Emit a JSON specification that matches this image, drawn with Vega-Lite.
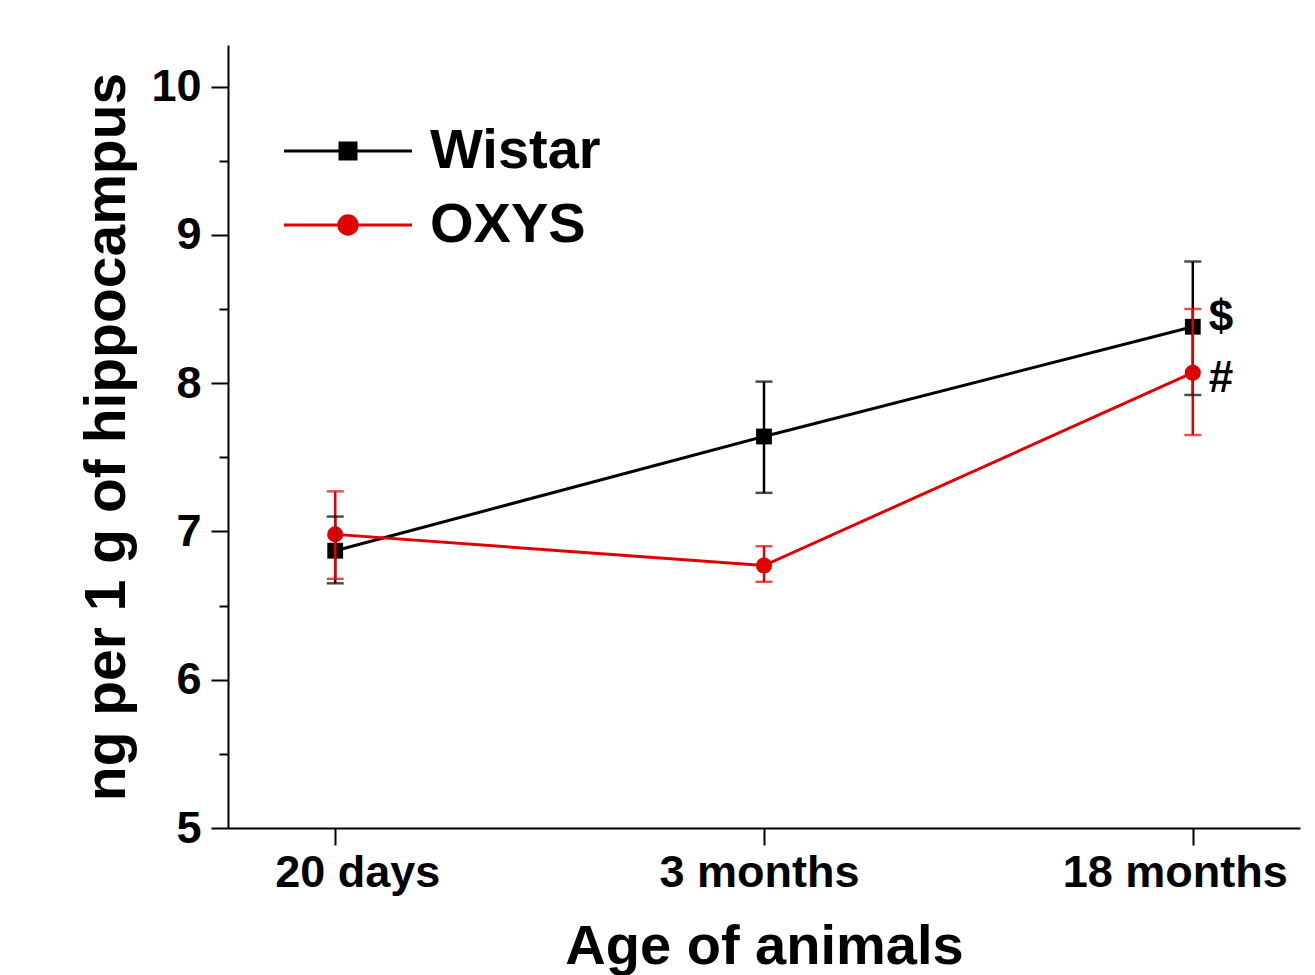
{
  "$schema": "https://vega.github.io/schema/vega-lite/v6.json",
  "width": 1072,
  "height": 783,
  "autosize": {"type": "none"},
  "padding": {"left": 228, "top": 45, "right": 15, "bottom": 147},
  "background": "white",
  "config": {"view": {"stroke": null}, "font": "Liberation Sans"},
  "datasets": {
    "main": [
      {"age": "20 days", "group": "Wistar", "mean": 6.87, "lo": 6.65, "hi": 7.10},
      {"age": "3 months", "group": "Wistar", "mean": 7.64, "lo": 7.26, "hi": 8.01},
      {"age": "18 months", "group": "Wistar", "mean": 8.38, "lo": 7.92, "hi": 8.82},
      {"age": "20 days", "group": "OXYS", "mean": 6.98, "lo": 6.68, "hi": 7.27},
      {"age": "3 months", "group": "OXYS", "mean": 6.77, "lo": 6.66, "hi": 6.90},
      {"age": "18 months", "group": "OXYS", "mean": 8.07, "lo": 7.65, "hi": 8.50}
    ],
    "notes": [
      {"age": "18 months", "value": 8.44, "label": "$"},
      {"age": "18 months", "value": 8.03, "label": "#"}
    ]
  },
  "resolve": {"axis": {"y": "independent"}},
  "layer": [
    {
      "data": {"name": "main"},
      "mark": {"type": "line", "strokeWidth": 3},
      "encoding": {
        "x": {
          "field": "age", "type": "ordinal",
          "scale": {"type": "point", "domain": ["20 days", "3 months", "18 months"], "padding": 0.25},
          "axis": {
            "title": "Age of animals", "labelAngle": 0, "labelLimit": 0,
            "labelFont": "Liberation Sans", "labelFontSize": 45, "labelFontWeight": "bold", "labelColor": "black",
            "tickSize": 17, "tickWidth": 2, "tickColor": "black",
            "domainColor": "black", "domainWidth": 2,
            "labelPadding": 5,
            "labelOffset": {
              "condition": [
                {"test": "datum.value === '20 days'", "value": 22},
                {"test": "datum.value === '3 months'", "value": -5}
              ],
              "value": -18
            },
            "titleFont": "Liberation Sans", "titleFontSize": 56, "titleFontWeight": "bold", "titleColor": "black",
            "titlePadding": 24, "grid": false
          }
        },
        "y": {
          "field": "mean", "type": "quantitative",
          "scale": {"domain": [5, 10.28], "nice": false, "zero": false},
          "axis": {
            "orient": "left",
            "title": "ng per 1 g of hippocampus",
            "values": [5, 6, 7, 8, 9, 10], "format": "d",
            "labelFont": "Liberation Sans", "labelFontSize": 45, "labelFontWeight": "bold", "labelColor": "black",
            "tickSize": 17, "tickWidth": 2, "tickColor": "black",
            "domainColor": "black", "domainWidth": 2,
            "labelPadding": 10,
            "titleFont": "Liberation Sans", "titleFontSize": 57, "titleFontWeight": "bold", "titleColor": "black",
            "titlePadding": 14, "grid": false
          }
        },
        "color": {
          "field": "group", "type": "nominal",
          "scale": {"domain": ["Wistar", "OXYS"], "range": ["#000000", "#e00000"]},
          "legend": {
            "title": null, "orient": "none", "legendX": 92, "legendY": 78, "padding": 0,
            "labelFont": "Liberation Sans", "labelFontSize": 56, "labelFontWeight": "bold", "labelColor": "black",
            "labelLimit": 0,
            "symbolSize": 256, "symbolStrokeWidth": 3, "labelOffset": 54, "rowPadding": 18,
            "encode": {
              "symbols": {
                "update": {
                  "shape": {"signal": "datum.value === 'Wistar' ? 'M-8,0H8M-1,-1H1V1H-1Z' : 'M-8,0H8M-1.15,0A1.15,1.15,0,1,1,1.15,0A1.15,1.15,0,1,1,-1.15,0Z'"},
                  "fill": {"signal": "datum.value === 'Wistar' ? '#000000' : '#e00000'"},
                  "stroke": {"signal": "datum.value === 'Wistar' ? '#000000' : '#e00000'"},
                  "strokeWidth": {"value": 3},
                  "opacity": {"value": 1}
                }
              }
            }
          }
        }
      }
    },
    {
      "data": {"name": "main"},
      "transform": [{"filter": "datum.group === 'Wistar'"}],
      "mark": {"type": "point", "filled": true, "opacity": 1, "size": 250, "shape": "square"},
      "encoding": {
        "x": {"field": "age", "type": "ordinal"},
        "y": {"field": "mean", "type": "quantitative", "axis": null},
        "color": {"field": "group", "type": "nominal"}
      }
    },
    {
      "data": {"name": "main"},
      "transform": [{"filter": "datum.group === 'OXYS'"}],
      "mark": {"type": "point", "filled": true, "opacity": 1, "size": 260, "shape": "circle"},
      "encoding": {
        "x": {"field": "age", "type": "ordinal"},
        "y": {"field": "mean", "type": "quantitative", "axis": null},
        "color": {"field": "group", "type": "nominal"}
      }
    },
    {
      "data": {"name": "main"},
      "mark": {"type": "rule", "strokeWidth": 2.5},
      "encoding": {
        "x": {"field": "age", "type": "ordinal"},
        "y": {
          "field": "lo", "type": "quantitative",
          "axis": {
            "orient": "left", "values": [5.5, 6.5, 7.5, 8.5, 9.5], "labels": false, "domain": false,
            "tickSize": 9, "tickWidth": 2, "tickColor": "black", "title": null, "grid": false
          }
        },
        "y2": {"field": "hi"},
        "color": {"field": "group", "type": "nominal"}
      }
    },
    {
      "data": {"name": "main"},
      "mark": {"type": "tick", "orient": "horizontal", "size": 17, "thickness": 2.5},
      "encoding": {
        "x": {"field": "age", "type": "ordinal"},
        "y": {"field": "lo", "type": "quantitative", "axis": null},
        "color": {"field": "group", "type": "nominal"}
      }
    },
    {
      "data": {"name": "main"},
      "mark": {"type": "tick", "orient": "horizontal", "size": 17, "thickness": 2.5},
      "encoding": {
        "x": {"field": "age", "type": "ordinal"},
        "y": {"field": "hi", "type": "quantitative", "axis": null},
        "color": {"field": "group", "type": "nominal"}
      }
    },
    {
      "data": {"name": "notes"},
      "mark": {"type": "text", "align": "left", "baseline": "middle", "dx": 16, "fontSize": 44, "fontWeight": "bold", "font": "Liberation Sans", "color": "black"},
      "encoding": {
        "x": {"field": "age", "type": "ordinal"},
        "y": {"field": "value", "type": "quantitative", "axis": null},
        "text": {"field": "label"}
      }
    }
  ]
}
